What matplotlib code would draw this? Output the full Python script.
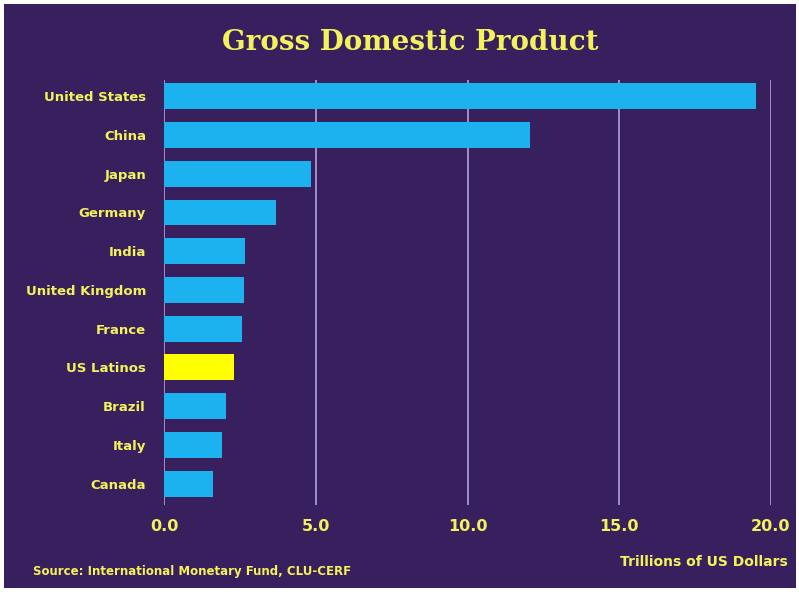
import matplotlib.pyplot as plt
from matplotlib.patches import Rectangle

paises = ['United States', 'China', 'Japan', 'Germany', 'India', 'United Kingdom',
          'France', 'US Latinos', 'Brazil', 'Italy', 'Canada']
pib = [19.5, 12.06, 4.84, 3.69, 2.67, 2.63, 2.57, 2.3, 2.04, 1.91, 1.61]
colores = ['#1cb2ef'] * len(paises)
colores[paises.index('US Latinos')] = '#ffff00'
ticks_x = [0, 5, 10, 15, 20]

fondo = '#38205f'
amarillo = '#f4f25a'
etiqueta_font = ['Liberation Sans Narrow', 'DejaVu Sans']

fig = plt.figure(figsize=(7.99, 5.95), dpi=100)
fig.patch.set_facecolor('white')
fig.add_artist(Rectangle((4 / 799, 7 / 595), 792 / 799, 584 / 595,
                         transform=fig.transFigure, facecolor=fondo,
                         edgecolor='none', zorder=0))

ax = fig.add_axes([164 / 799, 1 - 505 / 595, (771 - 164) / 799, (505 - 80) / 595])
ax.set_facecolor('none')

y = list(range(len(paises)))
ax.barh(y, pib, height=0.67, color=colores, zorder=3)

ax.set_xlim(0, 20)
ax.set_ylim(10.55, -0.42)
for v in ticks_x:
    ax.axvline(v, color='#a996cf', lw=1.3, zorder=1)

ax.set_xticks(ticks_x)
ax.set_xticklabels([f'{v:.1f}' for v in ticks_x], color=amarillo,
                   fontsize=11.5, fontweight='bold', family=etiqueta_font)
ax.set_yticks(y)
ax.set_yticklabels(paises, color=amarillo, fontsize=9.5, fontweight='bold',
                   family=etiqueta_font)
ax.tick_params(length=0)
ax.tick_params(axis='y', pad=13)
ax.tick_params(axis='x', pad=10)
for s in ax.spines.values():
    s.set_visible(False)

fig.text(410 / 799, 1 - 42 / 595, 'Gross Domestic Product', ha='center', va='center',
         color=amarillo, fontsize=20, fontweight='bold', family='DejaVu Serif')
fig.text(33 / 799, 1 - 571 / 595, 'Source: International Monetary Fund, CLU-CERF',
         ha='left', va='center', color=amarillo, fontsize=8.5, fontweight='bold',
         family=etiqueta_font)
fig.text(788 / 799, 1 - 562 / 595, 'Trillions of US Dollars', ha='right', va='center',
         color=amarillo, fontsize=10, fontweight='bold', family=etiqueta_font)

fig.savefig('out.png', dpi=100, facecolor=fig.get_facecolor())
